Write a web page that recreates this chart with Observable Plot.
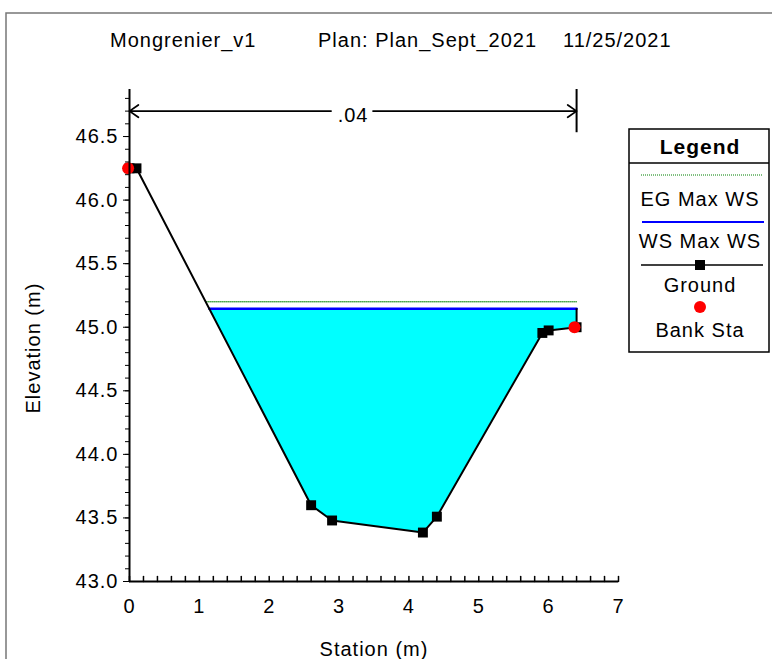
<!DOCTYPE html>
<html><head><meta charset="utf-8">
<script src="https://cdn.jsdelivr.net/npm/d3@7"></script>
<script src="https://cdn.jsdelivr.net/npm/@observablehq/plot@0.6"></script>
<style>body{margin:0;background:#fff}svg{display:block}</style>
</head><body><div id="chart"></div>
<script>
// ---- data ----
const titleParts = ["Mongrenier_v1", "Plan: Plan_Sept_2021", "11/25/2021"];
const groundStation   = [0, 0.1, 2.6, 2.9, 4.2, 4.4, 5.91, 6.0, 6.4];
const groundElevation = [46.25, 46.25, 43.6, 43.48, 43.385, 43.51, 44.955, 44.975, 45.0];
const bankStation   = [-0.02, 6.37];
const bankElevation = [46.25, 45.0];
const wsMaxWS = 45.145;
const egMaxWS = 45.2;
const manningLabel = [".04"];
const manningExtent = [0, 6.4];
const manningLineElevation = 46.70;
const manningTickElevation = [46.53, 46.87];
const xTicks = [0, 1, 2, 3, 4, 5, 6, 7];
const xMinorTicks = d3.range(0, 36).map(i => i / 5);
const yTicks = [43.0, 43.5, 44.0, 44.5, 45.0, 45.5, 46.0, 46.5];
const yMinorTicks = d3.range(430, 469).map(i => i / 10);
const legendLabels = ["EG Max WS", "WS Max WS", "Ground", "Bank Sta"];
const xLabel = "Station (m)";
const yLabel = "Elevation (m)";

const ground = groundStation.map((s, i) => ({station: s, elev: groundElevation[i]}));
const banks = bankStation.map((s, i) => ({station: s, elev: bankElevation[i]}));

// wetted part of the section below a level (with edge intersections)
function wetted(level) {
  const pts = [];
  for (let i = 0; i < ground.length; i++) {
    const a = ground[i];
    if (a.elev <= level) pts.push({station: a.station, elev: a.elev});
    const b = ground[i + 1];
    if (b && (a.elev - level) * (b.elev - level) < 0) {
      const t = (a.elev - level) / (a.elev - b.elev);
      pts.push({station: a.station + t * (b.station - a.station), elev: level});
    }
  }
  return pts;
}
const water = wetted(wsMaxWS);
const egPts = wetted(egMaxWS);
const wsLine = [water[0], water[water.length - 1]].map(d => ({station: d.station, elev: wsMaxWS}));
const egLine = [egPts[0], egPts[egPts.length - 1]].map(d => ({station: d.station, elev: egMaxWS}));
const lastG = ground[ground.length - 1];
const mid = (manningExtent[0] + manningExtent[1]) / 2;

const tickShapeUp = {draw(ctx, l) { ctx.moveTo(0, 0); ctx.lineTo(0, -l); }};

const W = 772, H = 659;
const font = "'Liberation Sans', Arial, sans-serif";

const plot = Plot.plot({
  width: W, height: H,
  marginLeft: 129, marginRight: 154, marginTop: 89, marginBottom: 78,
  style: {fontFamily: font, fontSize: "20px", letterSpacing: "1px", color: "#000", background: "#fff", overflow: "visible"},
  x: {domain: [0, 7]},
  y: {domain: [43, 46.87]},
  marks: [
    Plot.areaY(water, {x: "station", y1: "elev", y2: wsMaxWS, fill: "#00ffff", curve: "linear"}),
    Plot.line(egLine, {x: "station", y: "elev", stroke: "#008000", strokeWidth: 1, strokeDasharray: "1,1"}),
    Plot.line(wsLine, {x: "station", y: "elev", stroke: "#0000ff", strokeWidth: 2.5}),
    Plot.ruleX([lastG], {x: "station", y1: "elev", y2: wsMaxWS, stroke: "#000", strokeWidth: 2}),
    Plot.line(ground, {x: "station", y: "elev", stroke: "#000", strokeWidth: 2}),
    Plot.dot(ground, {x: "station", y: "elev", symbol: "square", fill: "#000", r: 5.6}),
    Plot.dot(banks, {x: "station", y: "elev", fill: "#ff0000", r: 6}),
    // axes
    Plot.axisY({ticks: yMinorTicks, tickSize: 4, tickFormat: () => "", label: null}),
    Plot.axisY({ticks: yTicks, tickSize: 6, tickPadding: 5, tickFormat: d => d.toFixed(1), label: null, fontSize: 20}),
    Plot.axisX({ticks: xTicks, tickSize: 0, tickPadding: 17, tickFormat: d => String(d), label: null, fontSize: 20}),
    Plot.vector(xMinorTicks, {x: d => d, y: 43, length: 5, anchor: "start", shape: tickShapeUp, stroke: "#000", strokeWidth: 1.5}),
    Plot.ruleX([0], {y1: 43, y2: 46.87, stroke: "#000", strokeWidth: 2}),
    Plot.ruleY([43], {x1: 0, x2: 7, stroke: "#000", strokeWidth: 2}),
    // Manning's n dimension line
    Plot.ruleX([manningExtent[1]], {y1: manningTickElevation[0], y2: manningTickElevation[1], stroke: "#000", strokeWidth: 2}),
    Plot.arrow([0], {x1: mid, y1: manningLineElevation, x2: manningExtent[0], y2: manningLineElevation, insetStart: 22, headLength: 9, headAngle: 70, stroke: "#000", strokeWidth: 1.8}),
    Plot.arrow([0], {x1: mid, y1: manningLineElevation, x2: manningExtent[1], y2: manningLineElevation, insetStart: 20, headLength: 9, headAngle: 70, stroke: "#000", strokeWidth: 1.8}),
    Plot.text(manningLabel, {x: mid, y: manningLineElevation, text: d => d, dy: 4, fontSize: 20}),
    // axis titles
    Plot.text([yLabel], {frameAnchor: "left", text: d => d, rotate: -90, dx: -96, dy: 78, fontSize: 20}),
    Plot.text([xLabel], {frameAnchor: "bottom", text: d => d, dy: 74, fontSize: 20})
  ]
});

document.getElementById("chart").appendChild(plot);
const svg = d3.select(plot);

// outer frame
svg.append("path").attr("d", `M6,${H} V13 H${W}`).attr("fill", "none").attr("stroke", "#777").attr("stroke-width", 1.5);

// title
const titleX = [110, 318, 563];
titleParts.forEach((t, i) => {
  svg.append("text").attr("x", titleX[i]).attr("y", 47).text(t)
    .attr("text-anchor", "start").attr("font-family", font).attr("font-size", 20).attr("fill", "#000");
});

// legend
const lg = svg.append("g").attr("font-family", font).attr("font-size", 20).attr("fill", "#000").attr("text-anchor", "middle");
lg.append("rect").attr("x", 629).attr("y", 129).attr("width", 140).attr("height", 223)
  .attr("fill", "#fff").attr("stroke", "#000").attr("stroke-width", 1.5);
lg.append("line").attr("x1", 629).attr("x2", 769).attr("y1", 163).attr("y2", 163).attr("stroke", "#000").attr("stroke-width", 1.5);
lg.append("text").attr("x", 700).attr("y", 154).attr("font-weight", "bold").attr("font-size", 21).text("Legend");
lg.append("line").attr("x1", 641).attr("x2", 763).attr("y1", 175).attr("y2", 175).attr("stroke", "#008000").attr("stroke-dasharray", "1,1");
lg.append("text").attr("x", 700).attr("y", 206).text(legendLabels[0]);
lg.append("line").attr("x1", 642).attr("x2", 764).attr("y1", 222).attr("y2", 222).attr("stroke", "#0000ff").attr("stroke-width", 2);
lg.append("text").attr("x", 700).attr("y", 248).text(legendLabels[1]);
lg.append("line").attr("x1", 641).attr("x2", 763).attr("y1", 265).attr("y2", 265).attr("stroke", "#000").attr("stroke-width", 1.5);
lg.append("rect").attr("x", 695).attr("y", 260).attr("width", 10).attr("height", 10).attr("fill", "#000");
lg.append("text").attr("x", 700).attr("y", 292).text(legendLabels[2]);
lg.append("circle").attr("cx", 700).attr("cy", 307).attr("r", 6).attr("fill", "#ff0000");
lg.append("text").attr("x", 700).attr("y", 337).text(legendLabels[3]);
</script>
</body></html>
